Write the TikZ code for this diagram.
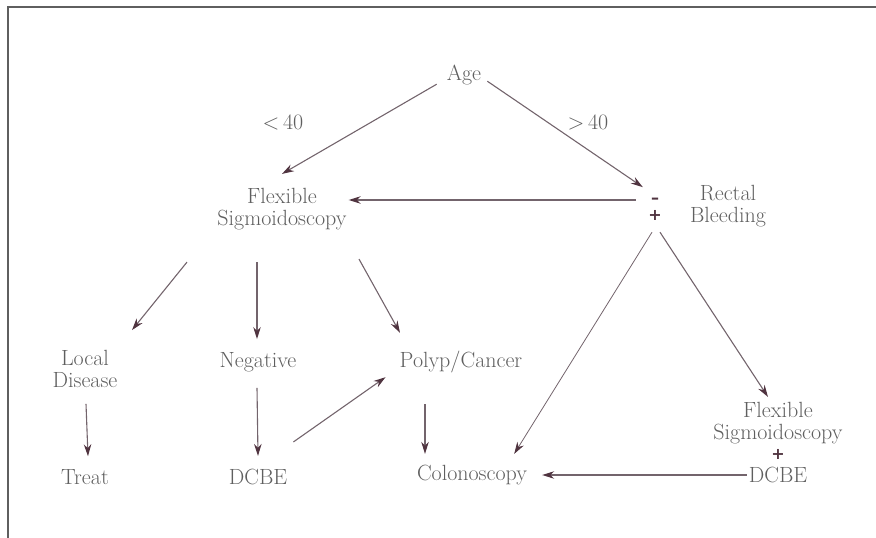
\documentclass[tikz,border=0pt]{standalone}
\usepackage{fontspec}
\newfontfamily\signfont{DejaVu Sans}
\usepackage{tikz}
\usetikzlibrary{arrows.meta,positioning}

\definecolor{inkgray}{RGB}{95,95,95}
\definecolor{linegray}{RGB}{115,100,108}
\definecolor{tipdark}{RGB}{80,52,64}

\begin{document}
\begin{tikzpicture}[x=1pt,y=-1pt,>={Stealth[length=12pt,width=7.5pt,color=tipdark]},
                    txt/.style={text=inkgray, align=center, inner sep=2pt,
                                font=\fontsize{22}{22}\selectfont},
                    sign/.style={text=tipdark, inner sep=0pt, font=\signfont\fontsize{16}{16}\selectfont\bfseries},
                    link/.style={->, draw=linegray, line width=1.1pt}]
  \useasboundingbox (0,0) rectangle (876,538);
  % Frame
  \draw[inkgray, line width=1.8pt] (876,7) -- (8,7) -- (8,538);

  % Nodes
  \node[txt] (age) at (464,75) {Age};
  \node[txt] (flex) at (282,209) {Flexible\\Sigmoidoscopy};
  \node[sign] (minus) at (655,201) {–};
  \node[sign, below of=minus, node distance=14pt] (plus) {+};
  \node[txt] (rectal) at (728,206) {Rectal\\Bleeding};
  \node[txt] (local) at (85,369) {Local\\Disease};
  \node[txt] (negative) at (258,362) {Negative};
  \node[txt] (polyp) at (461,362) {Polyp/Cancer};
  \node[txt, below of=local, node distance=108pt] (treat) {Treat};
  \node[txt, below of=negative, node distance=115pt] (dcbe) {DCBE};
  \node[txt] (colon) at (472,475) {Colonoscopy};
  \node[txt] (flexb) at (778,423) {Flexible\\Sigmoidoscopy};
  \node[sign, below of=flexb, node distance=31pt] (plusb) {+};
  \node[txt, below of=flexb, node distance=52pt] (dcbeb) {DCBE};

  % Labels
  \node[txt] (young) at (283,122) {<\,40};
  \node[txt] (old) at (588,122) {>\,40};

  % Edges
  \draw[link] ([xshift=-8pt,yshift=3pt]age.south west) -- ([yshift=12pt]flex.north);
  \draw[link] ([xshift=4pt,yshift=6pt]age.south east) -- ([xshift=-8pt,yshift=11pt]minus.north west);
  \draw[link, shorten <=15pt] ([yshift=1pt]minus.west) -- ([yshift=1pt]minus.west -| flex.east);
  \draw[link] ([xshift=-95pt,yshift=-30pt]flex.south) -- ([xshift=47pt,yshift=18pt]local.north);
  \draw[link] ([xshift=-25pt,yshift=-30pt]flex.south) -- ([xshift=-1pt,yshift=11pt]negative.north);
  \draw[link] ([xshift=77pt,yshift=-27pt]flex.south) -- ([xshift=-61pt,yshift=16pt]polyp.north);
  \draw[link] ([xshift=1pt,yshift=-14pt]local.south) -- ([xshift=3pt,yshift=11pt]treat.north);
  \draw[link] ([xshift=-1pt,yshift=-14pt]negative.south) -- ([yshift=11pt]dcbe.north);
  \draw[link] ([xshift=4pt,yshift=25pt]dcbe.north east) -- ([xshift=-12pt,yshift=-2pt]polyp.south west);
  \draw[link] ([xshift=-36pt,yshift=-29pt]polyp.south) -- ([xshift=-47pt,yshift=9pt]colon.north);
  \draw[link, line width=0.8pt] ([xshift=-3pt,yshift=-12pt]plus.south) -- ([xshift=-15pt,yshift=9pt]colon.north east);
  \draw[link] ([xshift=5pt,yshift=-12pt]plus.south) -- ([xshift=-10pt,yshift=3pt]flexb.north);
  \draw[link, shorten >=13pt] (dcbeb.west) -- (dcbeb.west -| colon.east);
\end{tikzpicture}
\end{document}
